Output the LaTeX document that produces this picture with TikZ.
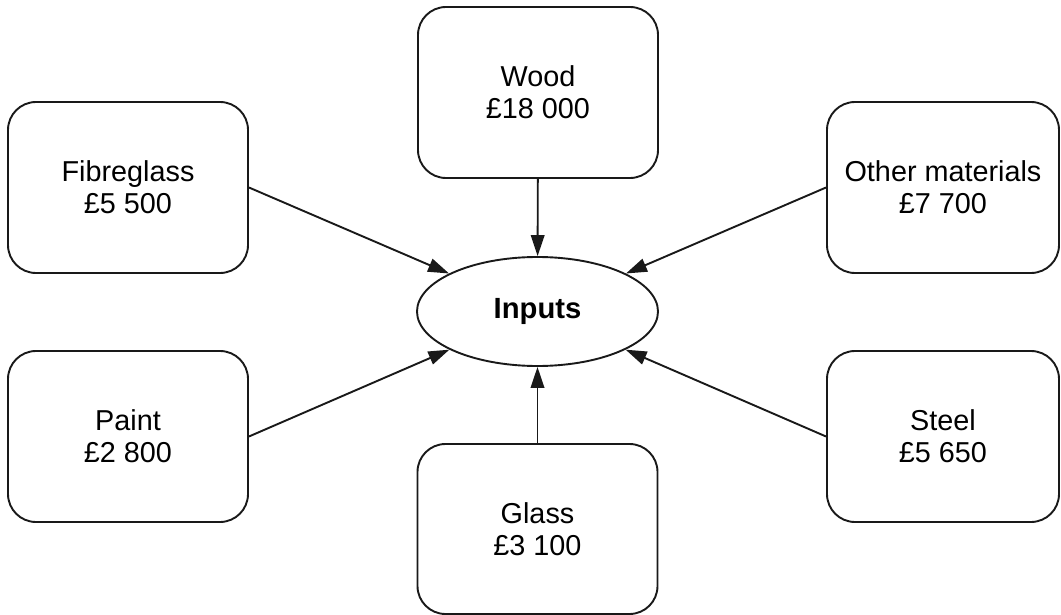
\documentclass[tikz,border=0pt]{standalone}
\usepackage{fontspec}
\setmainfont{Liberation Sans}
\usetikzlibrary{shapes.geometric,arrows.meta}
\begin{document}
\begin{tikzpicture}[x=0.5pt,y=-0.5pt,
  box/.style={draw=black!90, line width=0.95pt, rounded corners=14pt,
    minimum width=120pt, minimum height=85.5pt, align=center,
    font=\fontsize{14.4}{15.9}\selectfont, inner sep=0pt},
  hub/.style={draw=black!90, line width=0.95pt, ellipse,
    minimum width=120.5pt, minimum height=54.5pt, inner sep=0pt,
    font=\fontsize{14.6}{16}\selectfont\bfseries},
  arr/.style={draw=black!90, line width=0.95pt, -{Triangle[length=10.5pt,width=6.8pt]}}]
\useasboundingbox (0,0) rectangle (1061,615);
\node[hub] (in) at (537.5,311.5) {Inputs};
\node[box] (wood) at (538,92.5) {Wood\\£18 000};
\node[box] (fib) at (128,187.5) {Fibreglass\\£5 500};
\node[box, minimum width=116pt] (oth) at (943,187.5) {Other materials\\£7 700};
\node[box] (paint) at (128,436.5) {Paint\\£2 800};
\node[box, minimum width=116pt] (steel) at (943,436.5) {Steel\\£5 650};
\node[box, minimum height=85pt] (glass) at (537.5,529) {Glass\\£3 100};
\draw[arr] (wood) -- (in);
\draw[arr] (fib.east) -- (in);
\draw[arr] (oth.west) -- (in);
\draw[arr] (paint.east) -- (in);
\draw[arr] (steel.west) -- (in);
\draw[arr] (glass) -- (in);
\end{tikzpicture}
\end{document}
